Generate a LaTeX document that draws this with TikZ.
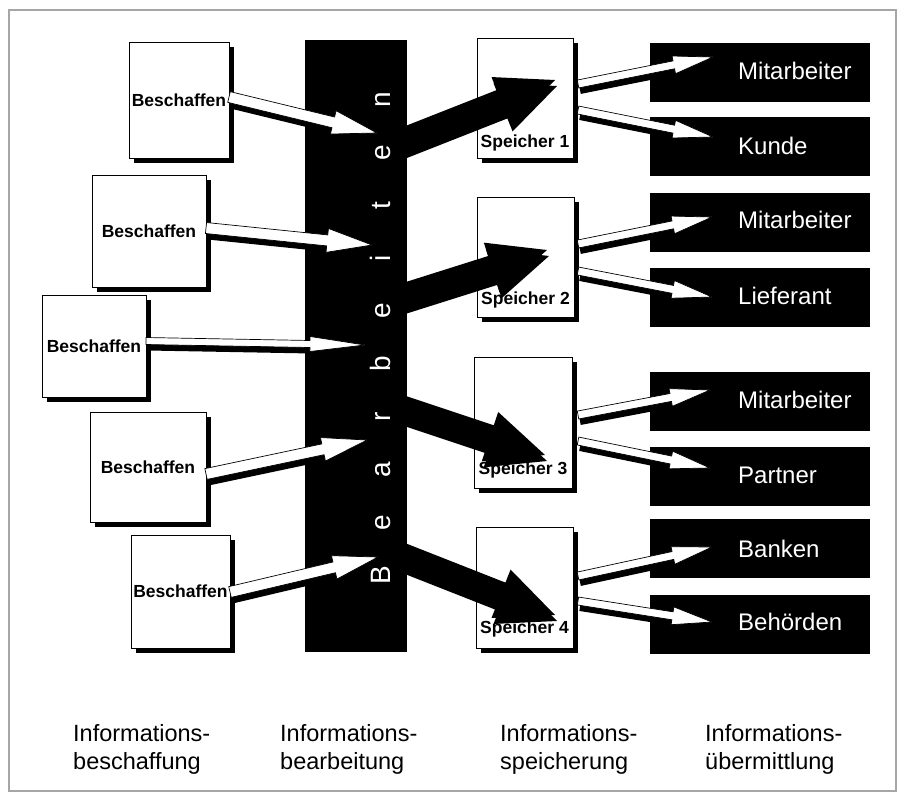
\documentclass[tikz,border=0pt]{standalone}
\usepackage{fontspec}
\setmainfont{Liberation Sans}
\usetikzlibrary{calc,shadows}

% flat block arrow: style, from, to, shaft half width, head half width, head length
\newcommand\flatarrow[6]{%
  \coordinate (fa-base) at ($(#3)!#6!(#2)$);
  \path[#1] ($(#2)!#4!90:(#3)$) -- ($(fa-base)!#4!90:(#3)$) -- ($(fa-base)!#5!90:(#3)$) -- (#3)
    -- ($(fa-base)!#5!-90:(#3)$) -- ($(fa-base)!#4!-90:(#3)$) -- ($(#2)!#4!-90:(#3)$) -- cycle;}
% arrow with its drop shadow
\newcommand\shadedarrow[6]{%
  \flatarrow{arrowshadow}{#2}{#3}{#4}{#5}{#6}%
  \flatarrow{#1}{#2}{#3}{#4}{#5}{#6}}
\newcommand\barletter[1]{\makebox[52.8pt]{#1}}

\tikzset{
  every node/.style={inner sep=0pt},
  boxshadow/.style={drop shadow={shadow xshift=5pt, shadow yshift=-5pt, fill=black, opacity=1}},
  srcbox/.style={draw=black, line width=0.8pt, fill=white, boxshadow,
    font=\bfseries\fontsize{17.5}{20}\selectfont},
  storebox/.style={draw=black, line width=0.8pt, fill=white, boxshadow},
  storelabel/.style={font=\bfseries\fontsize{17.5}{20}\selectfont},
  tgtbox/.style={fill=black, minimum width=220pt, minimum height=59pt},
  tgtlabel/.style={text=white, anchor=west, font=\fontsize{24}{28}\selectfont},
  colhead/.style={anchor=north west, align=left, font=\fontsize{23.5}{28}\selectfont},
  whitearrow/.style={fill=white, draw=black, line width=0.7pt, line join=miter},
  blackarrow/.style={fill=black},
  arrowshadow/.style={fill=black, transform canvas={shift={(2,6)}}},
}

\begin{document}
\begin{tikzpicture}[x=1pt, y=-1pt]
\useasboundingbox (0,0) rectangle (905,801);
\fill[white] (0,0) rectangle (905,801);
\draw[gray!70, line width=1.5pt] (9,10) rectangle (896,791);

% processing bar
\node[fill=black, minimum width=102pt, minimum height=612pt] (bar) at (356,346) {};

% sources
\node[srcbox, minimum width=100pt, minimum height=116pt] (b1) at (179,100) {Beschaffen};
\node[srcbox, minimum width=114pt, minimum height=112pt] (b2) at (149,231) {Beschaffen};
\node[srcbox, minimum width=104pt, minimum height=102pt] (b3) at (94,346) {Beschaffen};
\node[srcbox, minimum width=116pt, minimum height=110pt] (b4) at (148,467) {Beschaffen};
\node[srcbox, minimum width=99pt, minimum height=113pt] (b5) at (180.5,591.5) {Beschaffen};

% stores
\node[storebox, minimum width=96pt, minimum height=120pt] (s1) at (525,98) {};
\node[storebox, minimum width=97pt, minimum height=120pt] (s2) at (525.5,257) {};
\node[storebox, minimum width=98pt, minimum height=131pt] (s3) at (523,422.5) {};
\node[storebox, minimum width=97pt, minimum height=121pt] (s4) at (524.5,587.5) {};
\node[storelabel] (s1l) at ($(s1.south)+(0,-15)$) {Speicher 1};
\node[storelabel] (s2l) at ($(s2.south)+(0,-17)$) {Speicher 2};
\node[storelabel] (s3l) at ($(s3.south)+(0,-18)$) {Speicher 3};
\node[storelabel] (s4l) at ($(s4.south)+(0,-19)$) {Speicher 4};

% recipients
\node[tgtbox] (t1) at (760,72.5) {};
\node[tgtbox] (t2) at (760,146) {};
\node[tgtbox] (t3) at (760,222) {};
\node[tgtbox] (t4) at (760,297.5) {};
\node[tgtbox] (t5) at (760,401.5) {};
\node[tgtbox] (t6) at (760,476) {};
\node[tgtbox] (t7) at (760,548) {};
\node[tgtbox] (t8) at (760,624) {};
\node[tgtlabel] (t1l) at (738,70.5) {Mitarbeiter};
\node[tgtlabel] (t2l) at (738,146) {Kunde};
\node[tgtlabel] (t3l) at (738,220) {Mitarbeiter};
\node[tgtlabel] (t4l) at (738,296) {Lieferant};
\node[tgtlabel] (t5l) at (738,399.5) {Mitarbeiter};
\node[tgtlabel] (t6l) at (738,475) {Partner};
\node[tgtlabel] (t7l) at (738,549) {Banken};
\node[tgtlabel] (t8l) at (738,622) {Behörden};

% arrow end points
\coordinate (b1o) at (229,97);   \coordinate (bar1) at (377,133);
\coordinate (b2o) at (206,228);  \coordinate (bar2) at (372,245);
\coordinate (b3o) at (146,341);  \coordinate (bar3) at (365,345);
\coordinate (b4o) at (206,474);  \coordinate (bar4) at (367,440);
\coordinate (b5o) at (230,592);  \coordinate (bar5) at (378,557);

\coordinate (bo1) at (395,143);  \coordinate (s1i) at (555,80);
\coordinate (bo2) at (395,298);  \coordinate (s2i) at (547,250);
\coordinate (bo3) at (395,405);  \coordinate (s3i) at (545,455);
\coordinate (bo4) at (395,552);  \coordinate (s4i) at (555,615);

\coordinate (s1a) at (578,84);   \coordinate (t1i) at (713,57);
\coordinate (s1b) at (578,110);  \coordinate (t2i) at (713,137);
\coordinate (s2a) at (578,244);  \coordinate (t3i) at (712,217);
\coordinate (s2b) at (578,271);  \coordinate (t4i) at (712,297);
\coordinate (s3a) at (578,415);  \coordinate (t5i) at (710,390);
\coordinate (s3b) at (578,441);  \coordinate (t6i) at (710,468);
\coordinate (s4a) at (578,576);  \coordinate (t7i) at (712,547);
\coordinate (s4b) at (578,601);  \coordinate (t8i) at (712,622);

% acquisition arrows
\shadedarrow{whitearrow}{b1o}{bar1}{5.5pt}{12pt}{45pt}
\shadedarrow{whitearrow}{b2o}{bar2}{5.5pt}{12pt}{45pt}
\shadedarrow{whitearrow}{b3o}{bar3}{3.5pt}{7.5pt}{55pt}
\shadedarrow{whitearrow}{b4o}{bar4}{5.5pt}{12pt}{45pt}
\shadedarrow{whitearrow}{b5o}{bar5}{5.5pt}{12pt}{45pt}

% storing arrows
\shadedarrow{blackarrow}{bo1}{s1i}{12pt}{26pt}{58pt}
\shadedarrow{blackarrow}{bo2}{s2i}{12pt}{26pt}{58pt}
\shadedarrow{blackarrow}{bo3}{s3i}{12pt}{26pt}{58pt}
\shadedarrow{blackarrow}{bo4}{s4i}{12pt}{26pt}{58pt}

% transmission arrows
\shadedarrow{whitearrow}{s1a}{t1i}{4pt}{9pt}{40pt}
\shadedarrow{whitearrow}{s1b}{t2i}{4pt}{9pt}{40pt}
\shadedarrow{whitearrow}{s2a}{t3i}{4pt}{9pt}{40pt}
\shadedarrow{whitearrow}{s2b}{t4i}{4pt}{9pt}{40pt}
\shadedarrow{whitearrow}{s3a}{t5i}{4pt}{9pt}{40pt}
\shadedarrow{whitearrow}{s3b}{t6i}{4pt}{9pt}{40pt}
\shadedarrow{whitearrow}{s4a}{t7i}{4pt}{9pt}{40pt}
\shadedarrow{whitearrow}{s4b}{t8i}{4pt}{9pt}{40pt}

% vertical bar caption
\node[text=white, rotate=90, font=\fontsize{28}{32}\selectfont] (barlabel) at (380,337.5)
  {\barletter{B}\barletter{e}\barletter{a}\barletter{r}\barletter{b}\barletter{e}\barletter{i}\barletter{t}\barletter{e}\barletter{n}};

% column captions
\node[colhead] (c1) at (73,724) {Informations-\\beschaffung};
\node[colhead] (c2) at (280,724) {Informations-\\bearbeitung};
\node[colhead] (c3) at (500,724) {Informations-\\speicherung};
\node[colhead] (c4) at (705,724) {Informations-\\übermittlung};
\end{tikzpicture}
\end{document}
